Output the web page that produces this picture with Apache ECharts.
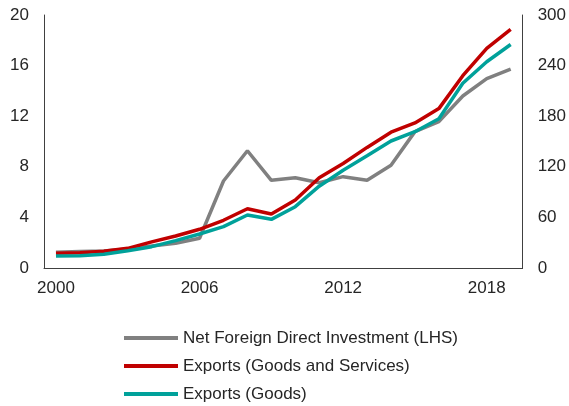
<!DOCTYPE html>
<html><head><meta charset="utf-8">
<script src="https://cdn.jsdelivr.net/npm/echarts@6/dist/echarts.min.js"></script>
<style>html,body{margin:0;padding:0;background:#fff}#c{width:569px;height:406px}</style>
</head><body><div id="c"></div>
<script>
var years = ['2000','2001','2002','2003','2004','2005','2006','2007','2008','2009','2010','2011','2012','2013','2014','2015','2016','2017','2018','2019'];
var fdi = [1.24,1.3,1.35,1.5,1.74,1.95,2.35,6.88,9.27,6.93,7.14,6.74,7.22,6.93,8.12,10.78,11.57,13.6,14.97,15.73];
var exportsGS = [17.4,18,19.8,23.3,31,38,45.9,56.6,70.3,64,80.6,107,124,143,161,172,189,228,260.5,283];
var exportsG = [14.2,14.6,16.2,20.5,25.3,32.4,40.3,49,62.8,57.7,72.7,97,116,133,150.6,161.6,177,219,244.6,265];
var leftTicks = {min:0,max:20,interval:4};
var rightTicks = {min:0,max:300,interval:60};
var font = 'Liberation Sans, Arial, sans-serif';
var chart = echarts.init(document.getElementById('c'));
var axisLine = {show:true,lineStyle:{color:'#404040',width:1}};
var lbl = {color:'#262626',fontSize:17,fontFamily:font};
chart.setOption({
  animation:false,
  grid:{left:44,right:44,top:15,bottom:138,containLabel:false},
  legend:{orient:'vertical',left:124,top:328,padding:0,icon:'rect',itemWidth:54,itemHeight:4,itemGap:8,
    textStyle:{color:'#262626',fontSize:17,fontFamily:font,lineHeight:20,padding:[0,0,0,0]},
    data:['Net Foreign Direct Investment (LHS)','Exports (Goods and Services)','Exports (Goods)']},
  xAxis:{type:'category',data:years,boundaryGap:true,axisLine:axisLine,axisTick:{show:false},
    axisLabel:Object.assign({interval:5,margin:12},lbl),splitLine:{show:false}},
  yAxis:[
    Object.assign({type:'value',position:'left',axisLine:axisLine,axisTick:{show:false},splitLine:{show:false},
      axisLabel:Object.assign({margin:15},lbl)},leftTicks),
    Object.assign({type:'value',position:'right',axisLine:axisLine,axisTick:{show:false},splitLine:{show:false},
      axisLabel:Object.assign({margin:15},lbl)},rightTicks)
  ],
  series:[
    {name:'Net Foreign Direct Investment (LHS)',type:'line',yAxisIndex:0,data:fdi,symbol:'none',
      lineStyle:{color:'#808080',width:3.5},itemStyle:{color:'#808080'}},
    {name:'Exports (Goods and Services)',type:'line',yAxisIndex:1,data:exportsGS,symbol:'none',
      lineStyle:{color:'#C00000',width:3.5},itemStyle:{color:'#C00000'}},
    {name:'Exports (Goods)',type:'line',yAxisIndex:1,data:exportsG,symbol:'none',
      lineStyle:{color:'#00A19A',width:3.5},itemStyle:{color:'#00A19A'}}
  ]
});
</script></body></html>
